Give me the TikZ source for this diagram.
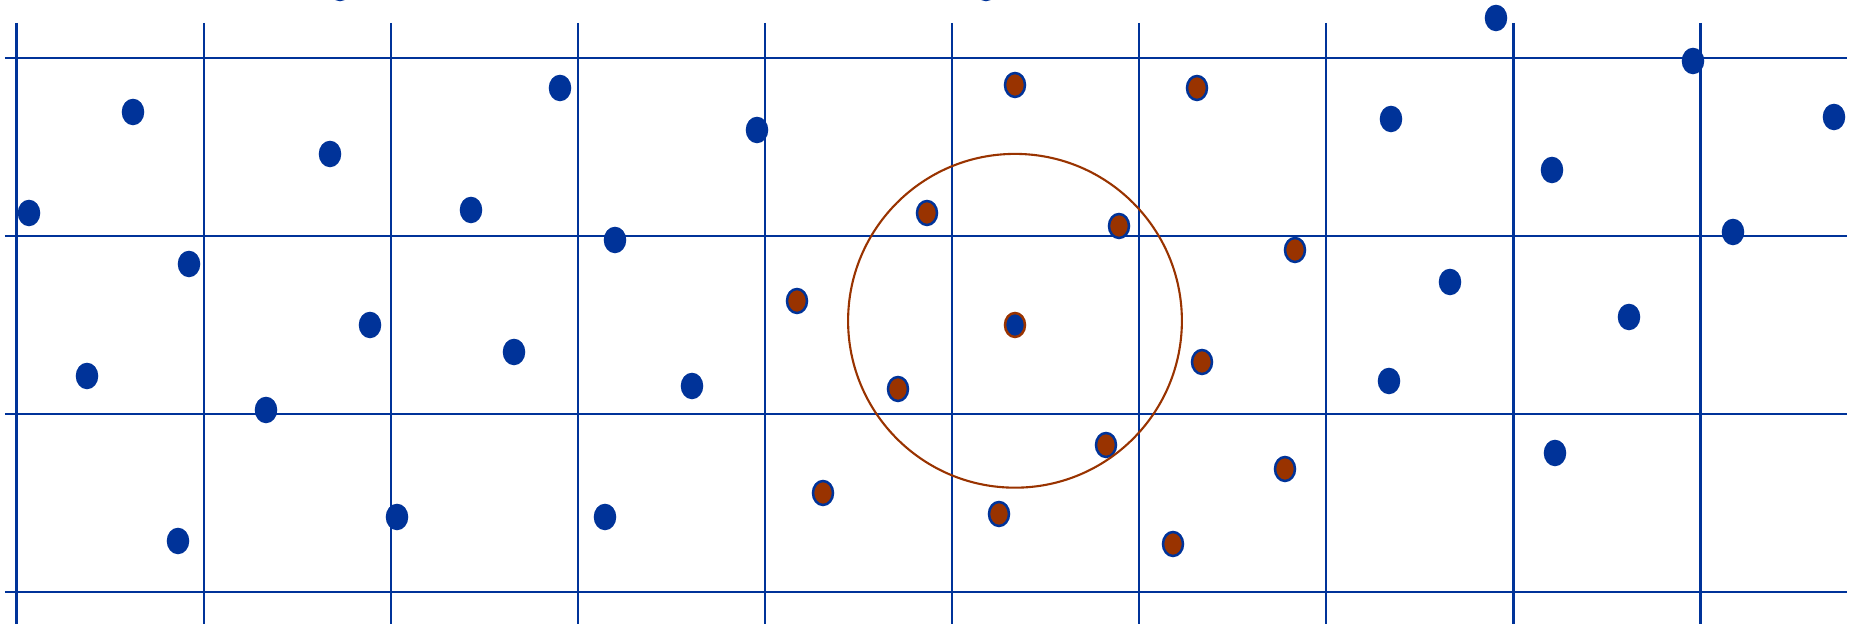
\documentclass[tikz,border=0pt]{standalone}
\usetikzlibrary{shapes.geometric}
\definecolor{gridblue}{RGB}{0,51,153}
\definecolor{nearbrown}{RGB}{153,51,0}
\tikzset{gridline/.style={draw=gridblue,line width=0.23mm},bluept/.style={ellipse,draw=gridblue,fill=gridblue,line width=0.25mm,minimum width=2mm,minimum height=2.4mm,inner sep=0pt},brownpt/.style={bluept,fill=nearbrown},querypt/.style={bluept,draw=nearbrown},ring/.style={draw=nearbrown,line width=0.21mm}}

\begin{document}
\begin{tikzpicture}[x=0.1mm,y=-0.1mm]
\useasboundingbox (0,0) rectangle (1850,624);
% grid cells
\foreach \i in {0,...,9} \draw[gridline] ({16.6+187.1*\i},23) -- ({16.6+187.1*\i},626);
\foreach \j in {0,...,3} \draw[gridline] (5,{58.3+177.9*\j}) -- (1847,{58.3+177.9*\j});
% points outside the query range
\foreach \x/\y [count=\k] in {340/-12,986/-12,133/112,330/154,560/88,29/213,471/210,615/240,189/264,370/325,87/376,514/352,266/410,178/541,397/517,605/517,757/130,692/386,1391/119,1496/18,1693/61,1552/170,1834/117,1733/232,1450/282,1629/317,1389/381,1555/453}
  \node[bluept] (b\k) at (\x,\y) {};
% points in the neighbouring cells
\foreach \x/\y [count=\k] in {797/301,823/493,898/389,927/213,1015/85,999/514,1119/226,1106/445,1197/88,1202/362,1173/544,1295/250,1285/469}
  \node[brownpt] (n\k) at (\x,\y) {};
\node[querypt] (q) at (1015,325) {};
\draw[ring] ([yshift=0.42mm]q.center) circle[radius=16.69mm];
\end{tikzpicture}
\end{document}
